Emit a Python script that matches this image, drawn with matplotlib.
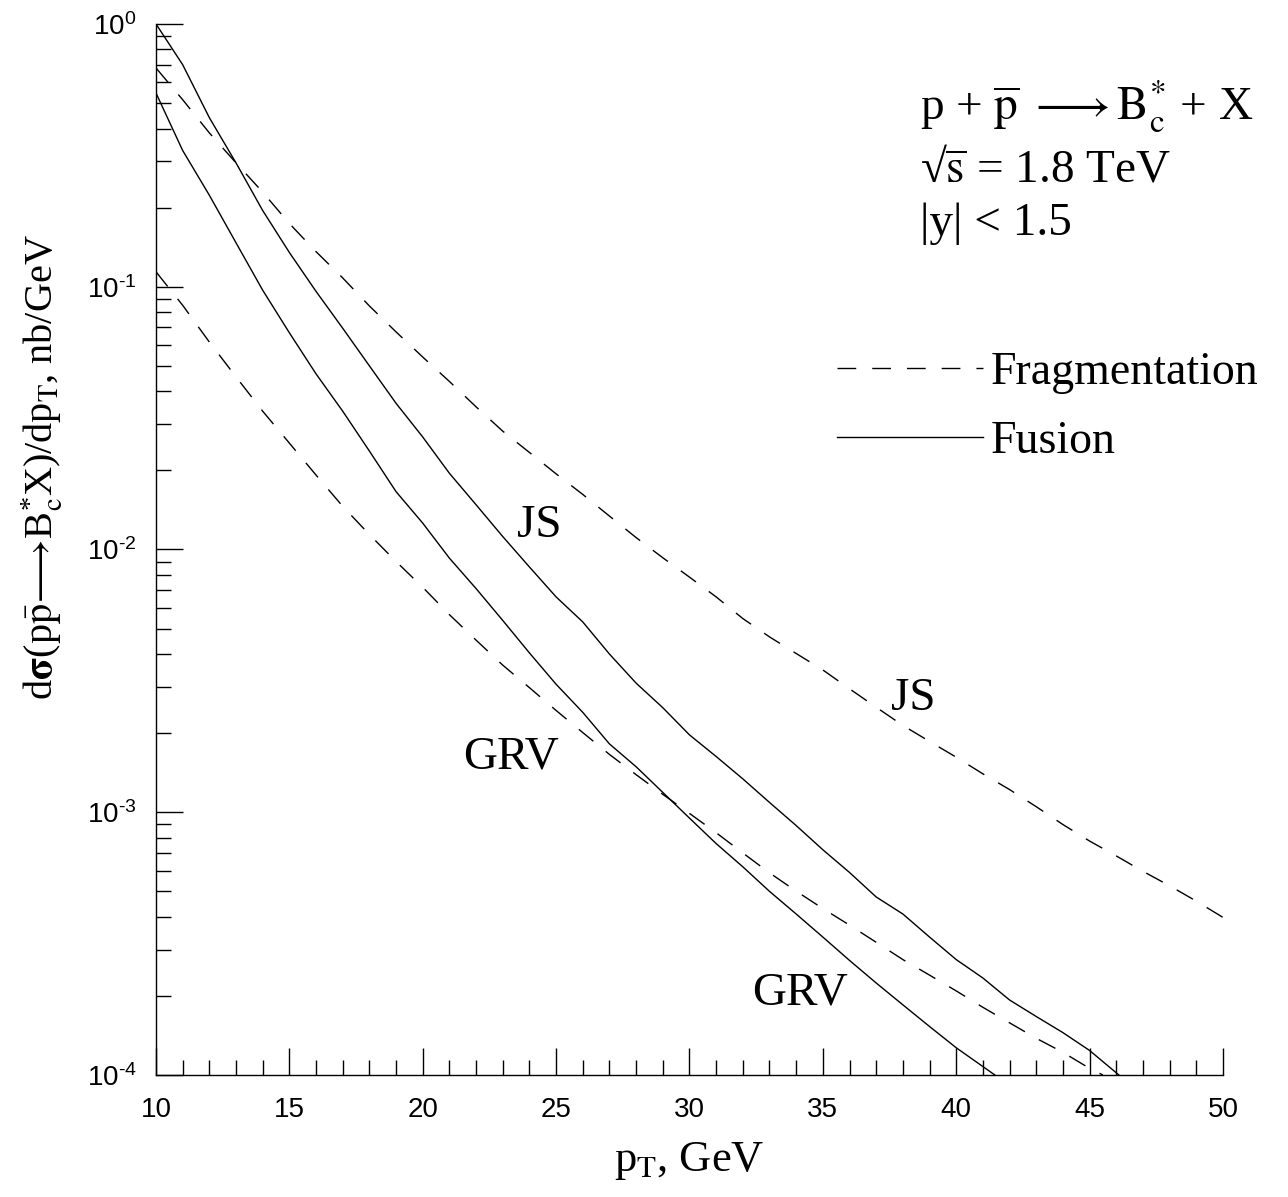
import math
import matplotlib
matplotlib.use('Agg')
import matplotlib.pyplot as plt
from matplotlib.ticker import MultipleLocator, LogLocator, FuncFormatter, NullFormatter

plt.rcParams['font.family'] = ['Liberation Sans', 'DejaVu Sans']
plt.rcParams['mathtext.default'] = 'regular'
plt.rcParams['axes.unicode_minus'] = False
plt.rcParams['lines.scale_dashes'] = False

# p_T, GeV  /  d sigma / d p_T, nb/GeV
pt_fus_js = [10, 11, 12, 13, 14, 15, 16, 17, 18, 19, 20, 21, 22, 23, 24, 25, 26, 27, 28, 29,
             30, 31, 32, 33, 34, 35, 36, 37, 38, 39, 40, 41, 42, 43, 44, 45, 46.1]
sig_fus_js = [1.0, 0.70, 0.44, 0.296, 0.195, 0.135, 0.096, 0.0695, 0.050, 0.036, 0.0268, 0.0195,
              0.0148, 0.0112, 0.00858, 0.0066, 0.0053, 0.0040, 0.0031, 0.0025, 0.00197, 0.00163,
              0.00134, 0.00109, 0.00089, 0.00072, 0.00059, 0.000476, 0.00041, 0.000335, 0.000275,
              0.000234, 0.000193, 0.000167, 0.000145, 0.000124, 0.0001]

pt_fus_grv = [10, 11, 12, 13, 14, 15, 16, 17, 18, 19, 20, 21, 22, 23, 24, 25, 26, 27, 28, 29,
              30, 31, 32, 33, 34, 35, 36, 37, 38, 39, 40, 41.45]
sig_fus_grv = [0.546, 0.33, 0.223, 0.147, 0.097, 0.0668, 0.0466, 0.0336, 0.0237, 0.0166, 0.0126,
               0.00927, 0.0071, 0.00537, 0.00404, 0.00307, 0.0024, 0.00182, 0.00149, 0.00119,
               0.00095, 0.00076, 0.00062, 0.0005, 0.00041, 0.000335, 0.000273, 0.000224,
               0.000185, 0.000153, 0.000127, 0.0001]

pt_frag_js = list(range(10, 51))
sig_frag_js = [0.68, 0.515, 0.385, 0.296, 0.229, 0.174, 0.136, 0.108, 0.0845, 0.0673, 0.054,
               0.0436, 0.0349, 0.0282, 0.0234, 0.0194, 0.0162, 0.0134, 0.0111, 0.0093, 0.00785,
               0.0066, 0.00546, 0.00465, 0.00402, 0.00348, 0.00295, 0.00251, 0.00214, 0.00186,
               0.00162, 0.0014, 0.00122, 0.00105, 0.000898, 0.000777, 0.000682, 0.000596,
               0.000525, 0.000459, 0.000398]

pt_frag_grv = [10, 11, 12, 13, 14, 15, 16, 17, 18, 19, 20, 21, 22, 23, 24, 25, 26, 27, 28, 29,
               30, 31, 32, 33, 34, 35, 36, 37, 38, 39, 40, 41, 42, 43, 44, 45, 45.5]
sig_frag_grv = [0.114, 0.085, 0.0616, 0.0454, 0.0336, 0.0254, 0.0192, 0.0146, 0.0114, 0.0090,
                0.00718, 0.00565, 0.00452, 0.00363, 0.00298, 0.00244, 0.00201, 0.00166, 0.00139,
                0.00117, 0.00099, 0.000836, 0.0007, 0.000588, 0.000501, 0.00043, 0.000372,
                0.00032, 0.000275, 0.00024, 0.000209, 0.000181, 0.000158, 0.000138, 0.000122,
                0.000106, 0.0001]

fig = plt.figure(figsize=(12.88, 11.97), dpi=100)
ax = fig.add_axes([0.1211, 0.1019, 0.8284, 0.8781])

dash = (0, (13.5, 11.5))
lw = 1.0
ax.plot(pt_frag_js, sig_frag_js, color='black', lw=lw, ls=dash, label='Fragmentation')
ax.plot(pt_fus_js, sig_fus_js, color='black', lw=lw, label='Fusion')
ax.plot(pt_frag_grv, sig_frag_grv, color='black', lw=lw, ls=dash)
ax.plot(pt_fus_grv, sig_fus_grv, color='black', lw=lw)

ax.set_yscale('log')
ax.set_xlim(10, 50)
ax.set_ylim(1e-4, 1)

ax.spines['top'].set_visible(False)
ax.spines['right'].set_visible(False)
for s in ('left', 'bottom'):
    ax.spines[s].set_linewidth(1.0)

ax.xaxis.set_major_locator(MultipleLocator(5))
ax.xaxis.set_minor_locator(MultipleLocator(1))
ax.yaxis.set_major_locator(LogLocator(base=10, numticks=10))
ax.yaxis.set_minor_locator(LogLocator(base=10, subs=range(2, 10), numticks=20))
ax.yaxis.set_minor_formatter(NullFormatter())


def dec_fmt(v, pos):
    e = int(round(math.log10(v)))
    sup = str(e).replace('-', '\u2010')
    return r'$\mathregular{10^{%s}}$' % sup


ax.yaxis.set_major_formatter(FuncFormatter(dec_fmt))
ax.tick_params(which='both', direction='in', width=1.0, labelsize=20)
ax.tick_params(which='major', length=19.5)
ax.tick_params(which='minor', length=10.5)
ax.tick_params(axis='x', which='major', pad=16)
ax.tick_params(axis='y', which='major', pad=14)

serif = ['Liberation Serif', 'DejaVu Serif']

ax.set_xlabel(r'p$_{\rm T}$, GeV', fontsize=32, family=serif, math_fontfamily='stix')
ax.xaxis.set_label_coords(0.5, -0.062)
ax.set_ylabel(r'd$\mathbf{\sigma}$(p$\bar{\rm p}\!\longrightarrow\!$B$^{*}_{\rm c}$X)/dp$_{\rm T}$, nb/GeV',
              fontsize=29, family=serif, math_fontfamily='stix')
ax.yaxis.set_label_coords(-0.086, 0.5785)

ax.text(0.716, 0.9087, r'p + $\overline{\rm p}\ \longrightarrow{\rm B}^{*}_{\rm c}$ + X',
        transform=ax.transAxes, fontsize=34, family=serif, math_fontfamily='stix', va='baseline')
ax.text(0.716, 0.8497, '\u221a$\\overline{\\rm s}$ = 1.8 TeV',
        transform=ax.transAxes, fontsize=34, family=serif, math_fontfamily='stix', va='baseline')
ax.text(0.716, 0.7992, '|y| < 1.5',
        transform=ax.transAxes, fontsize=34, family=serif, va='baseline')

ax.text(24.36, 0.01116, 'JS', fontsize=34, family=serif, ha='center', va='baseline')
ax.text(38.4, 0.00245, 'JS', fontsize=34, family=serif, ha='center', va='baseline')
ax.text(23.3, 0.00147, 'GRV', fontsize=34, family=serif, ha='center', va='baseline')
ax.text(34.15, 0.000185, 'GRV', fontsize=34, family=serif, ha='center', va='baseline')

ax.legend(loc='upper left', bbox_to_anchor=(0.638, 0.688), frameon=False,
          prop={'family': serif, 'size': 33}, borderpad=0, borderaxespad=0,
          handlelength=3.2, handletextpad=0.16, labelspacing=0.575)

fig.savefig('out.png', dpi=100)
